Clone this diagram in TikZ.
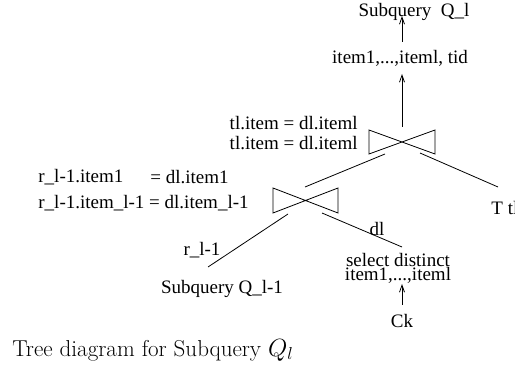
\documentclass[tikz,border=0pt]{standalone}
\usepackage{fontspec}
\newfontfamily\figfont{Liberation Serif}
\usetikzlibrary{arrows.meta,positioning}
\begin{document}
\begin{tikzpicture}[x=1pt, y=-1pt, line width=0.8pt,
    lbl/.style={font=\figfont\fontsize{19}{14}\selectfont, inner sep=0pt},
    upto/.style={-{Straight Barb[length=7pt,width=5pt]}}]
  \useasboundingbox (0,0) rectangle (515,377);
  % Labels
  \node[lbl] (topq) at (414,12) {Subquery\ \ Q\_l};
  \node[lbl] (tidlist) at (400,58) {item1,...,iteml, tid};
  \node[lbl, anchor=east] (condtop) at (358,123) {tl.item = dl.iteml};
  \node[lbl, anchor=east] (condbot) at (358,143) {tl.item = dl.iteml};
  \node[lbl, anchor=west] (rfirst) at (38,177) {r\_l-1.item1};
  \node[lbl, anchor=west] (dfirst) at (150,177) {= dl.item1};
  \node[lbl, anchor=west] (rlast) at (38,203) {r\_l-1.item\_l-1 = dl.item\_l-1};
  \node[lbl, anchor=west] (ttl) at (491,208) {T tl};
  \node[lbl] (rname) at (202,250) {r\_l-1};
  \node[lbl] (dname) at (377,229) {dl};
  \node[lbl] (subq) at (222,289) {Subquery Q\_l-1};
  \node[lbl, align=center] (select) at (398,268) {select distinct\\item1,...,iteml};
  \node[lbl] (ck) at (402,321) {Ck};
  \node[anchor=west, inner sep=0pt, font=\fontsize{23}{27}\selectfont] (caption) at (12,350) {Tree diagram for Subquery $Q_l$};
  % Join symbols
  \coordinate (jointop) at (402,142);
  \coordinate (joinlow) at (305,201);
  \draw (jointop) ++(-33,-12) -- ++(0,24) -- ++(66,-24) -- ++(0,24) -- cycle;
  \draw (joinlow) ++(-32,-13) -- ++(0,25) -- ++(65,-25) -- ++(0,25) -- cycle;
  % Tree edges
  \coordinate (jtopout) at (402,127);
  \coordinate (jtopleft) at (385,154);
  \coordinate (jtopright) at (420,153);
  \coordinate (jlowin) at (305,187);
  \coordinate (ttlin) at (498,187);
  \coordinate (jlowleft) at (288,214);
  \coordinate (jlowright) at (322,213);
  \coordinate (subqin) at (208,267);
  \coordinate (selin) at (402,247);
  \coordinate (tidin) at (402,74);
  \coordinate (tidout) at (402,42);
  \coordinate (topin) at (402,16);
  \coordinate (ckout) at (402,305);
  \coordinate (selout) at (402,284);
  \draw[upto] (jtopout) -- (tidin);
  \draw[upto] (tidout) -- (topin);
  \draw[upto] (ckout) -- (selout);
  \draw (jtopleft) -- (jlowin);
  \draw (jtopright) -- (ttlin);
  \draw (jlowleft) -- (subqin);
  \draw (jlowright) -- (selin);
\end{tikzpicture}
\end{document}
